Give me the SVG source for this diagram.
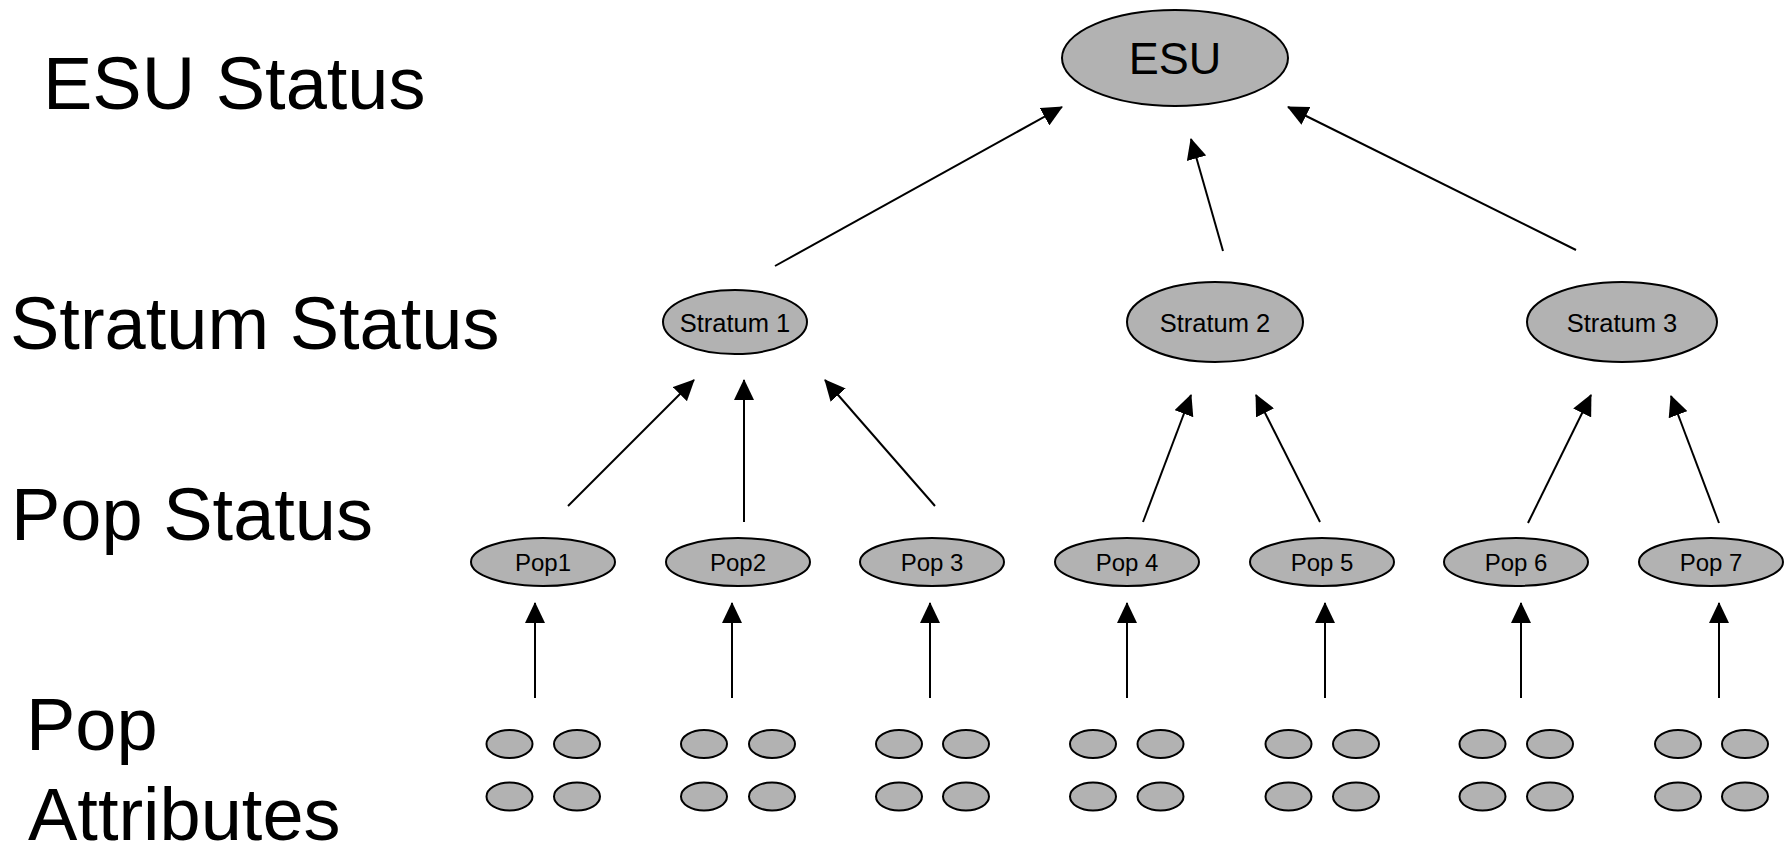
<svg xmlns="http://www.w3.org/2000/svg" width="1791" height="844" viewBox="0 0 1791 844">
<style>
.n{fill:#b2b2b2;stroke:#000;stroke-width:2}
.t{font-family:"Liberation Sans",Arial,sans-serif;fill:#000;text-anchor:middle}
.lbl{font-family:"Liberation Sans",Arial,sans-serif;fill:#000;font-size:74px}
.c{stroke:#000;stroke-width:2;fill:none;marker-end:url(#ah)}
</style>
<defs>
<marker id="ah" markerWidth="21" markerHeight="20" refX="20" refY="10" orient="auto" markerUnits="userSpaceOnUse"><path d="M0,0 L21,10 L0,20 z" fill="#000"/></marker>
</defs>
<rect width="1791" height="844" fill="#fff"/>
<g id="labels">
<text class="lbl" x="43" y="109">ESU Status</text>
<text class="lbl" x="10" y="349">Stratum Status</text>
<text class="lbl" x="11" y="540">Pop Status</text>
<text class="lbl" x="26" y="750">Pop</text>
<text class="lbl" x="28" y="840">Attributes</text>
</g>
<g id="connectors">
<line class="c" x1="775" y1="266" x2="1062" y2="107"/>
<line class="c" x1="1223" y1="251" x2="1191" y2="139"/>
<line class="c" x1="1576" y1="250" x2="1288" y2="107"/>
<line class="c" x1="568" y1="506" x2="694" y2="380"/>
<line class="c" x1="744" y1="522" x2="744" y2="380"/>
<line class="c" x1="935" y1="506" x2="825" y2="380"/>
<line class="c" x1="1143" y1="522" x2="1191" y2="395"/>
<line class="c" x1="1320" y1="522" x2="1256" y2="395"/>
<line class="c" x1="1528" y1="523" x2="1591" y2="395"/>
<line class="c" x1="1719" y1="523" x2="1671" y2="396"/>
<line class="c" x1="535" y1="698" x2="535" y2="603"/>
<line class="c" x1="732" y1="698" x2="732" y2="603"/>
<line class="c" x1="930" y1="698" x2="930" y2="603"/>
<line class="c" x1="1127" y1="698" x2="1127" y2="603"/>
<line class="c" x1="1325" y1="698" x2="1325" y2="603"/>
<line class="c" x1="1521" y1="698" x2="1521" y2="603"/>
<line class="c" x1="1719" y1="698" x2="1719" y2="603"/>
</g>
<g id="esu"><ellipse class="n" cx="1175" cy="58" rx="113" ry="48"/><text class="t" x="1175" y="74" font-size="45">ESU</text></g>
<g id="stratum1"><ellipse class="n" cx="735" cy="322" rx="72" ry="32"/><text class="t" x="735" y="332" font-size="25.5">Stratum 1</text></g>
<g id="stratum2"><ellipse class="n" cx="1215" cy="322" rx="88" ry="40"/><text class="t" x="1215" y="332" font-size="25.5">Stratum 2</text></g>
<g id="stratum3"><ellipse class="n" cx="1622" cy="322" rx="95" ry="40"/><text class="t" x="1622" y="332" font-size="25.5">Stratum 3</text></g>
<g id="pop1"><ellipse class="n" cx="543" cy="562" rx="72" ry="24"/><text class="t" x="543" y="571" font-size="24">Pop1</text></g>
<g id="pop2"><ellipse class="n" cx="738" cy="562" rx="72" ry="24"/><text class="t" x="738" y="571" font-size="24">Pop2</text></g>
<g id="pop3"><ellipse class="n" cx="932" cy="562" rx="72" ry="24"/><text class="t" x="932" y="571" font-size="24">Pop 3</text></g>
<g id="pop4"><ellipse class="n" cx="1127" cy="562" rx="72" ry="24"/><text class="t" x="1127" y="571" font-size="24">Pop 4</text></g>
<g id="pop5"><ellipse class="n" cx="1322" cy="562" rx="72" ry="24"/><text class="t" x="1322" y="571" font-size="24">Pop 5</text></g>
<g id="pop6"><ellipse class="n" cx="1516" cy="562" rx="72" ry="24"/><text class="t" x="1516" y="571" font-size="24">Pop 6</text></g>
<g id="pop7"><ellipse class="n" cx="1711" cy="562" rx="72" ry="24"/><text class="t" x="1711" y="571" font-size="24">Pop 7</text></g>
<g id="attrs1"><ellipse class="n" cx="509.5" cy="744" rx="23" ry="14"/><ellipse class="n" cx="577" cy="744" rx="23" ry="14"/><ellipse class="n" cx="509.5" cy="796.5" rx="23" ry="14"/><ellipse class="n" cx="577" cy="796.5" rx="23" ry="14"/></g>
<g id="attrs2"><ellipse class="n" cx="704" cy="744" rx="23" ry="14"/><ellipse class="n" cx="772" cy="744" rx="23" ry="14"/><ellipse class="n" cx="704" cy="796.5" rx="23" ry="14"/><ellipse class="n" cx="772" cy="796.5" rx="23" ry="14"/></g>
<g id="attrs3"><ellipse class="n" cx="899" cy="744" rx="23" ry="14"/><ellipse class="n" cx="966" cy="744" rx="23" ry="14"/><ellipse class="n" cx="899" cy="796.5" rx="23" ry="14"/><ellipse class="n" cx="966" cy="796.5" rx="23" ry="14"/></g>
<g id="attrs4"><ellipse class="n" cx="1093" cy="744" rx="23" ry="14"/><ellipse class="n" cx="1160.5" cy="744" rx="23" ry="14"/><ellipse class="n" cx="1093" cy="796.5" rx="23" ry="14"/><ellipse class="n" cx="1160.5" cy="796.5" rx="23" ry="14"/></g>
<g id="attrs5"><ellipse class="n" cx="1288.5" cy="744" rx="23" ry="14"/><ellipse class="n" cx="1356" cy="744" rx="23" ry="14"/><ellipse class="n" cx="1288.5" cy="796.5" rx="23" ry="14"/><ellipse class="n" cx="1356" cy="796.5" rx="23" ry="14"/></g>
<g id="attrs6"><ellipse class="n" cx="1482.5" cy="744" rx="23" ry="14"/><ellipse class="n" cx="1550" cy="744" rx="23" ry="14"/><ellipse class="n" cx="1482.5" cy="796.5" rx="23" ry="14"/><ellipse class="n" cx="1550" cy="796.5" rx="23" ry="14"/></g>
<g id="attrs7"><ellipse class="n" cx="1678" cy="744" rx="23" ry="14"/><ellipse class="n" cx="1745" cy="744" rx="23" ry="14"/><ellipse class="n" cx="1678" cy="796.5" rx="23" ry="14"/><ellipse class="n" cx="1745" cy="796.5" rx="23" ry="14"/></g>
</svg>
